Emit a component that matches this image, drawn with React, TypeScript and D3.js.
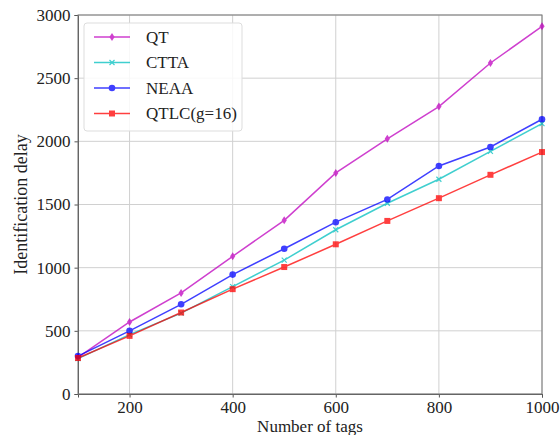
import React, { useEffect, useRef } from 'react';
import * as d3 from 'd3';

const tagCounts = [100, 200, 300, 400, 500, 600, 700, 800, 900, 1000];
const qtDelay = [290, 570, 800, 1090, 1375, 1750, 2020, 2275, 2620, 2910];
const cttaDelay = [280, 470, 640, 850, 1060, 1300, 1510, 1700, 1920, 2140];
const neaaDelay = [300, 500, 710, 945, 1150, 1360, 1540, 1805, 1955, 2175];
const qtlcDelay = [285, 460, 645, 830, 1005, 1185, 1370, 1550, 1735, 1915];
const xTicks = [200, 400, 600, 800, 1000];
const yTicks = [0, 500, 1000, 1500, 2000, 2500, 3000];

const seriesList = [
  { name: 'QT', values: qtDelay, color: '#bf00bf', marker: 'diamond' },
  { name: 'CTTA', values: cttaDelay, color: '#00bfbf', marker: 'x' },
  { name: 'NEAA', values: neaaDelay, color: '#0000ff', marker: 'circle' },
  { name: 'QTLC(g=16)', values: qtlcDelay, color: '#ff0000', marker: 'square' },
];

const width = 560;
const height = 435;
const marginTop = 15;
const marginRight = 18;
const marginBottom = 41;
const marginLeft = 78;
const font = '"Liberation Serif", "Times New Roman", serif';

const drawMarker = (g, kind, color, cx, cy) => {
  if (kind === 'diamond') {
    g.append('path')
      .attr('d', `M${cx},${cy - 4}L${cx + 2.6},${cy}L${cx},${cy + 4}L${cx - 2.6},${cy}Z`)
      .attr('fill', color);
  } else if (kind === 'x') {
    g.append('path')
      .attr('d', `M${cx - 2.5},${cy - 2.5}L${cx + 2.5},${cy + 2.5}M${cx - 2.5},${cy + 2.5}L${cx + 2.5},${cy - 2.5}`)
      .attr('stroke', color)
      .attr('stroke-width', 1.2);
  } else if (kind === 'circle') {
    g.append('circle').attr('cx', cx).attr('cy', cy).attr('r', 3.3).attr('fill', color);
  } else {
    g.append('rect').attr('x', cx - 3).attr('y', cy - 3).attr('width', 6).attr('height', 6).attr('fill', color);
  }
};

const LineChart = () => {
  const svgRef = useRef(null);

  useEffect(() => {
    const svg = d3.select(svgRef.current);
    svg.selectAll('*').remove();

    const x = d3.scaleLinear().domain([100, 1000]).range([marginLeft, width - marginRight]);
    const y = d3.scaleLinear().domain([0, 3000]).range([height - marginBottom, marginTop]);

    // grid
    const grid = svg.append('g').attr('stroke', '#d0d0d0').attr('stroke-width', 1);
    grid.selectAll('line.gx').data(xTicks).join('line')
      .attr('x1', d => x(d)).attr('x2', d => x(d))
      .attr('y1', marginTop).attr('y2', height - marginBottom);
    grid.selectAll('line.gy').data(yTicks).join('line')
      .attr('x1', marginLeft).attr('x2', width - marginRight)
      .attr('y1', d => y(d)).attr('y2', d => y(d));

    // X
    svg.append('g')
      .attr('transform', `translate(0,${height - marginBottom})`)
      .call(d3.axisBottom(x).tickValues(xTicks).tickFormat(d3.format('d')).tickSize(3.5).tickPadding(3))
      .call(g => g.select('.domain').attr('stroke', '#555'));
    // Y
    svg.append('g')
      .attr('transform', `translate(${marginLeft},0)`)
      .call(d3.axisLeft(y).tickValues(yTicks).tickFormat(d3.format('d')).tickSize(3.5).tickPadding(4))
      .call(g => g.select('.domain').attr('stroke', '#555'));
    svg.selectAll('.tick line').attr('stroke', '#555');
    svg.selectAll('.tick text').attr('font-family', font).attr('font-size', 17).attr('fill', '#222');

    // frame
    svg.append('rect')
      .attr('x', marginLeft).attr('y', marginTop)
      .attr('width', width - marginRight - marginLeft)
      .attr('height', height - marginBottom - marginTop)
      .attr('fill', 'none').attr('stroke', '#777').attr('stroke-width', 1);

    const line = d3.line().x((d, i) => x(tagCounts[i])).y(d => y(d));
    seriesList.forEach(s => {
      const g = svg.append('g').attr('opacity', 0.75);
      g.append('path')
        .attr('d', line(s.values))
        .attr('fill', 'none')
        .attr('stroke', s.color)
        .attr('stroke-width', 1.5);
      s.values.forEach((v, i) => drawMarker(g, s.marker, s.color, x(tagCounts[i]), y(v)));
    });

    // legend
    const lg = svg.append('g').attr('transform', 'translate(84,23)');
    lg.append('rect')
      .attr('width', 158).attr('height', 108).attr('rx', 3)
      .attr('fill', 'white').attr('fill-opacity', 0.85)
      .attr('stroke', '#ddd');
    seriesList.forEach((s, i) => {
      const yy = 14 + i * 25.5;
      const g = lg.append('g').attr('opacity', 0.75);
      g.append('line').attr('x1', 10).attr('x2', 46).attr('y1', yy).attr('y2', yy)
        .attr('stroke', s.color).attr('stroke-width', 1.5);
      drawMarker(g, s.marker, s.color, 28, yy);
      lg.append('text').attr('x', 62).attr('y', yy).attr('dy', '0.35em')
        .attr('font-family', font).attr('font-size', 17).attr('fill', '#222')
        .text(s.name);
    });

    svg.append('text')
      .attr('x', (marginLeft + width - marginRight) / 2).attr('y', height - 3)
      .attr('text-anchor', 'middle').attr('font-family', font).attr('font-size', 17).attr('fill', '#222')
      .text('Number of tags');
    svg.append('text')
      .attr('transform', `translate(27,${(marginTop + height - marginBottom) / 2}) rotate(-90)`)
      .attr('text-anchor', 'middle').attr('font-family', font).attr('font-size', 18).attr('fill', '#222')
      .text('Identification delay');
  }, []);

  return <svg ref={svgRef} width={width} height={height} style={{ display: 'block' }}></svg>;
};

export default function App() {
  return (
    <div style={{ position: 'absolute', left: 0, top: 0 }}>
      <LineChart />
    </div>
  );
}
